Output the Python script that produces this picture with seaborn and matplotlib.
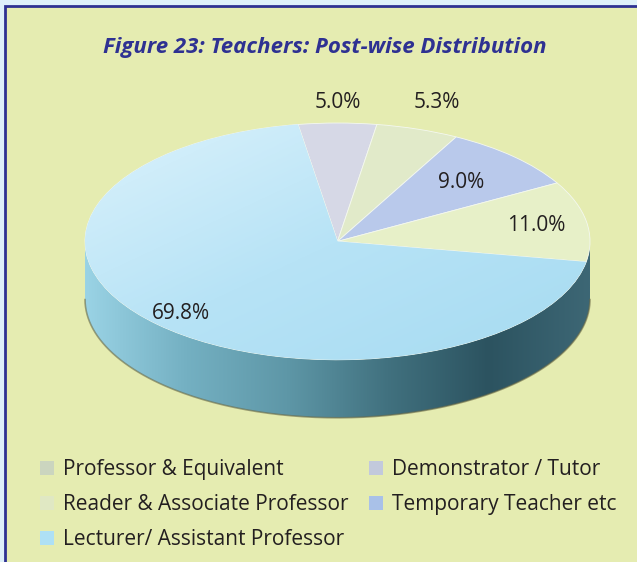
import numpy as np
import matplotlib
matplotlib.use("Agg")
import matplotlib.pyplot as plt
import seaborn as sns
from matplotlib.patches import Patch, Rectangle, Polygon
from matplotlib.colors import LinearSegmentedColormap

# data (pie order, clockwise from the top)
posts = ['Demonstrator / Tutor', 'Professor & Equivalent', 'Temporary Teacher etc',
         'Reader & Associate Professor', 'Lecturer/ Assistant Professor']
shares = [5.0, 5.3, 9.0, 11.0, 69.8]
labels = ['5.0%', '5.3%', '9.0%', '11.0%', '69.8%']
legend_order = ['Professor & Equivalent', 'Reader & Associate Professor',
                'Lecturer/ Assistant Professor', 'Demonstrator / Tutor',
                'Temporary Teacher etc']

top_colors = {'Demonstrator / Tutor': '#d6d8e6', 'Professor & Equivalent': '#e1eac9',
              'Temporary Teacher etc': '#b9c9eb', 'Reader & Associate Professor': '#e7f0c8',
              'Lecturer/ Assistant Professor': '#b3e2f5'}
legend_colors = {'Professor & Equivalent': '#cbd5bf', 'Reader & Associate Professor': '#e0e8c3',
                 'Lecturer/ Assistant Professor': '#aee0f5', 'Demonstrator / Tutor': '#c2c9dc',
                 'Temporary Teacher etc': '#a9c1e8'}

sns.set_theme(style='white')
plt.rcParams['font.family'] = ['Open Sans', 'DejaVu Sans']

BG = '#e5ecb1'
fig = plt.figure(figsize=(6.37, 5.62), dpi=100, facecolor='#def0fa')
fig.patches.append(Rectangle((0.008, -0.05), 1.05, 0.989 + 0.05, transform=fig.transFigure,
                             facecolor=BG, edgecolor='#2e3192', linewidth=2, zorder=-5))

fig.text(0.510, 1 - 47 / 562, 'Figure 23: Teachers: Post-wise Distribution', ha='center', va='center',
         fontsize=16, fontweight='bold', fontstyle='italic', color='#2e3192')

ax = fig.add_axes([0.0542, 0.1913, 0.9513, 0.6530])
ax.set_facecolor('none')
depth = 0.49

# side wall with gradient
t = np.linspace(np.pi, 2 * np.pi, 200)
xs = np.concatenate([np.cos(t), np.cos(t[::-1])])
ys = np.concatenate([np.sin(t), np.sin(t[::-1]) - depth])
wall = Polygon(np.column_stack([xs, ys]), closed=True, facecolor='none', edgecolor='none')
ax.add_patch(wall)
wall_cmap = LinearSegmentedColormap.from_list('wall', ['#9ad3e5', '#74b0c2', '#5e97a7',
                                                       '#41717f', '#2c5360', '#3d6775'])
grad = np.linspace(0, 1, 256).reshape(1, -1)
im = ax.imshow(grad, cmap=wall_cmap, extent=[-1, 1, -1 - depth, 0], aspect='auto', zorder=1)
im.set_clip_path(wall)
# shadow line under the wall
ax.plot(np.cos(t), np.sin(t) - depth, color='#6b6a45', lw=1.2, alpha=0.6, zorder=1)

wedges, _ = ax.pie(shares, colors=[top_colors[p] for p in posts], startangle=99,
                   counterclock=False, radius=1,
                   wedgeprops=dict(edgecolor='#f4f8f0', linewidth=0.6))
for w in wedges:
    w.set_zorder(2)

# soft gradient on the large slice
top_cmap = LinearSegmentedColormap.from_list('top', ['#dbf2fc', '#b7e3f6', '#a6dbf1'])
gx, gy = np.meshgrid(np.linspace(0, 1, 200), np.linspace(0, 1, 200))
im2 = ax.imshow((gx + gy) / 2, cmap=top_cmap, extent=[-1, 1, -1, 1], aspect='auto', zorder=3)
im2.set_clip_path(wedges[-1])

# percentage labels
radial = [1.17, 1.24, 0.7, 0.8, 0.87]
for w, lab, r in zip(wedges, labels, radial):
    mid = np.deg2rad((w.theta1 + w.theta2) / 2)
    ax.text(r * np.cos(mid), r * np.sin(mid), lab, ha='center', va='center',
            fontsize=15, color='#231f20', zorder=5)

ax.set_aspect('auto')
ax.set_xlim(-1.2, 1.2)
ax.set_ylim(-1.8, 1.3)
ax.axis('off')

handles = [Patch(facecolor=legend_colors[p], edgecolor='none', label=p) for p in legend_order]
fig.legend(handles=handles, ncol=2, loc='upper left', bbox_to_anchor=(40 / 637, 1 - 459 / 562),
           frameon=False, fontsize=15, handlelength=0.65, handleheight=0.65, handletextpad=0.45,
           columnspacing=1.0, labelspacing=0.68, borderpad=0, borderaxespad=0,
           labelcolor='#231f20')

fig.savefig('out.png', dpi=100, facecolor=fig.get_facecolor())
